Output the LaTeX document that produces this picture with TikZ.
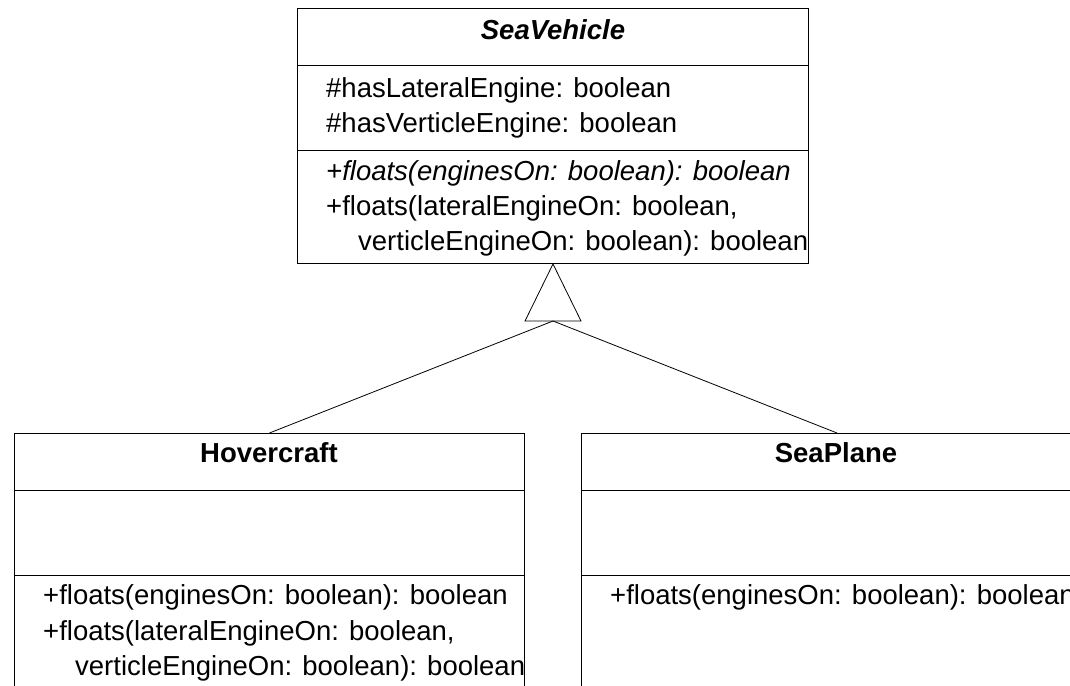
\documentclass[tikz,border=0pt]{standalone}
\usepackage{fontspec}
\setmainfont{Liberation Sans}
\usetikzlibrary{calc}
\tikzset{
	classbox/.style={draw, line width=1pt, minimum width=511pt, inner sep=0pt, anchor=north west},
	member/.style={anchor=base west, inner sep=0pt, font=\fontsize{27.5}{33}\selectfont},
	classname/.style={anchor=base, inner sep=0pt, font=\fontsize{27.5}{33}\selectfont\bfseries},
	divider/.style={line width=0.8pt},
	link/.style={line width=0.8pt}
}
\begin{document}
\begin{tikzpicture}[x=1pt, y=1pt]
			\useasboundingbox (0,0) rectangle (1070,685);
			\clip (0,0) rectangle (1070,685);
			% class boxes
			\node[classbox, minimum height=255pt] (seaveh) at (297,677) {};
			\node[classbox, minimum width=510pt, minimum height=300pt] (hover) at (14,252) {};
			\node[classbox, minimum height=300pt] (seaplane) at (581,252) {};
			\foreach \cls in {seaveh, hover, seaplane} {
				\draw[divider] ($(\cls.north west)+(0,-57)$) -- ($(\cls.north east)+(0,-57)$);
				\draw[divider] ($(\cls.north west)+(0,-142)$) -- ($(\cls.north east)+(0,-142)$);
			}
			% SeaVehicle
			\node[classname] (sv-name) at (553,645) {\itshape SeaVehicle};
			\node[member] (sv-a1) at (326,587) {\#hasLateralEngine: boolean};
			\node[member] (sv-a2) at (326,552) {\#hasVerticleEngine: boolean};
			\node[member] (sv-m1) at (326,504) {\itshape +floats(enginesOn: boolean): boolean};
			\node[member] (sv-m2) at (326,469) {+floats(lateralEngineOn: boolean,};
			\node[member] (sv-m3) at (358,434) {verticleEngineOn: boolean): boolean};
			% Hovercraft
			\node[classname] (hc-name) at (269,222) {Hovercraft};
			\node[member] (hc-m1) at (43,80) {+floats(enginesOn: boolean): boolean};
			\node[member] (hc-m2) at (43,45) {+floats(lateralEngineOn: boolean,};
			\node[member] (hc-m3) at (75,10) {verticleEngineOn: boolean): boolean};
			% SeaPlane
			\node[classname] (sp-name) at (836,222) {SeaPlane};
			\node[member] (sp-m1) at (610,80) {+floats(enginesOn: boolean): boolean};
			% generalisation
			\coordinate (apex) at (seaveh.south);
			\coordinate (tribase) at ($(apex)+(0,-57)$);
			\draw[link] (apex) -- ($(tribase)+(-28,0)$) -- ($(tribase)+(28,0)$) -- cycle;
			\draw[link] (tribase) -- (hover.north);
			\draw[link] (tribase) -- (seaplane.north);
		\end{tikzpicture}
\end{document}
